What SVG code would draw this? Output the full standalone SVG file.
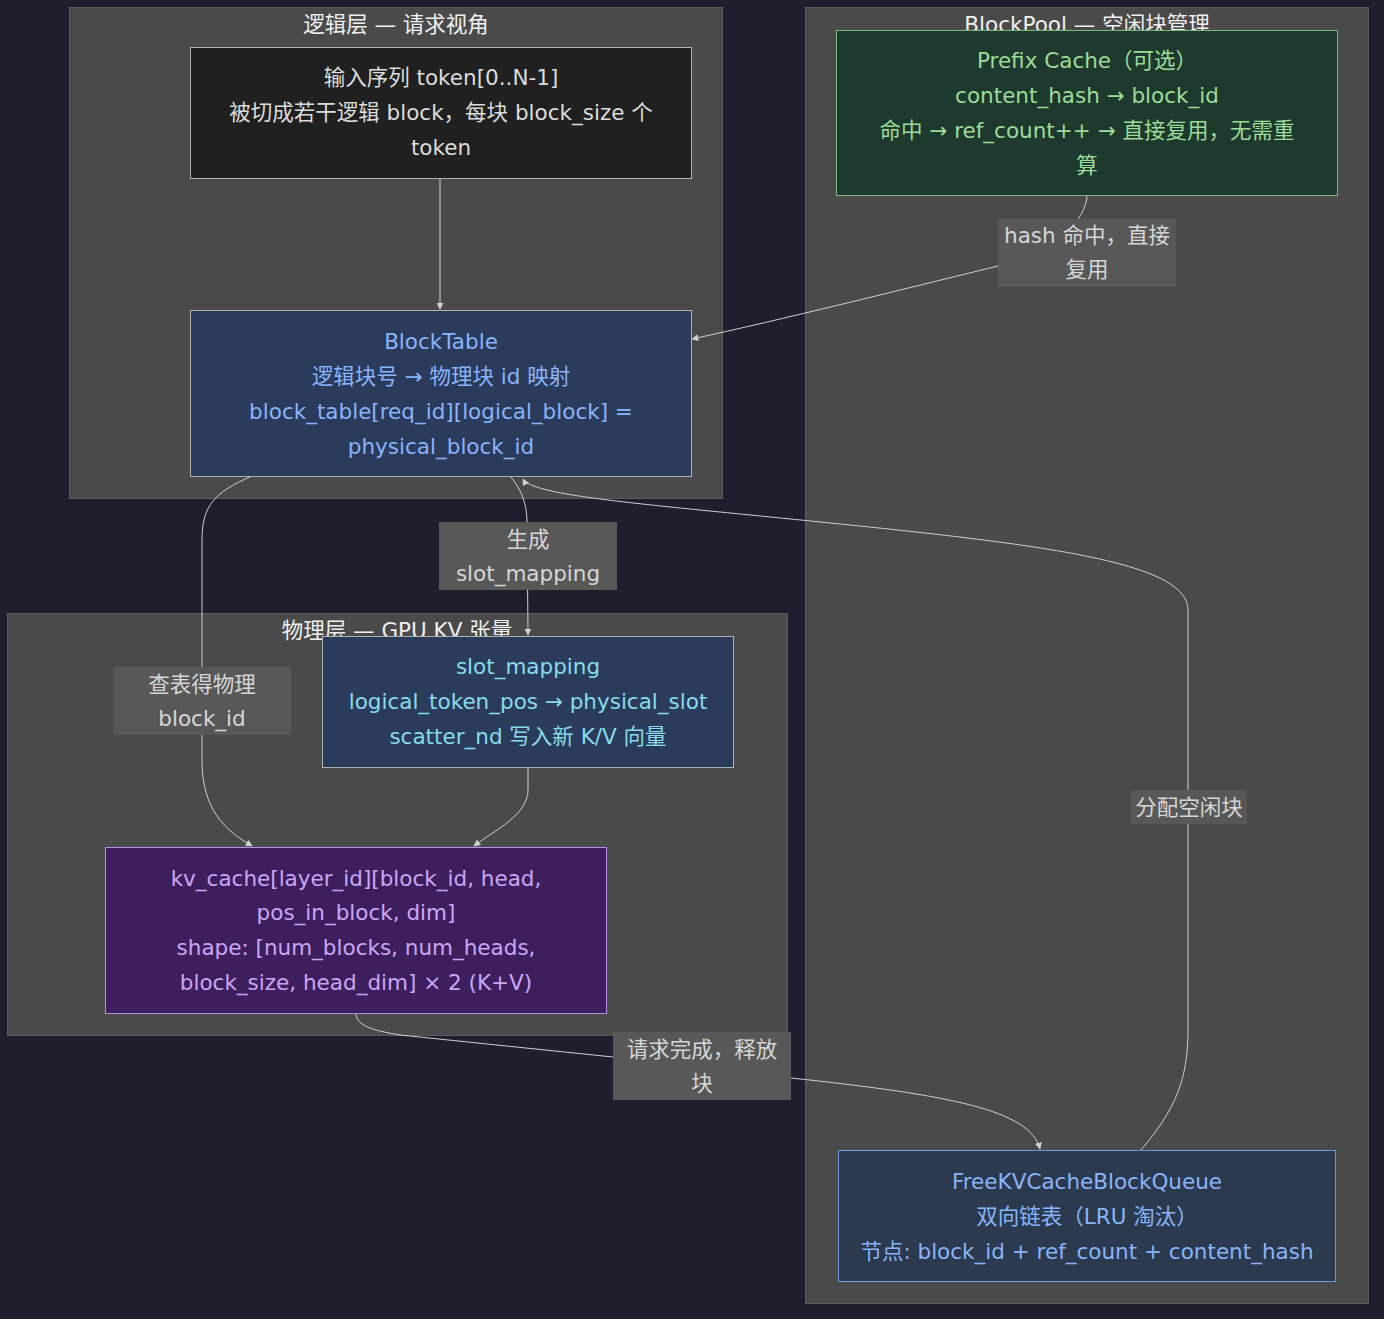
<svg xmlns="http://www.w3.org/2000/svg" width="1384" height="1319" viewBox="0 0 1384 1319">
<defs>
<marker id="arr" viewBox="0 0 10 10" refX="9" refY="5" markerWidth="7" markerHeight="7" orient="auto-start-reverse" markerUnits="userSpaceOnUse">
<path d="M0,0 L10,5 L0,10 z" fill="#d0d0d0"/>
</marker>
<style>
text{font-family:"DejaVu Sans","Noto Sans CJK SC",sans-serif;font-size:21.5px;text-anchor:middle;dominant-baseline:central}
.cl{fill:#4a4a4a;stroke:#5c5c5c;stroke-width:1}
.ct{fill:#f0f0f0}
.e{fill:none;stroke:#cfcfcf;stroke-width:1}
.lb{fill:#585858}
.lt{fill:#d6d6d6}
</style>
</defs>
<rect width="1384" height="1319" fill="#1e1e2e"/>

<g id="cluster-logic">
<rect class="cl" x="69.5" y="7.5" width="653" height="491"/>
<text class="ct" x="396" y="24">逻辑层 — 请求视角</text>
</g>
<g id="cluster-pool">
<rect class="cl" x="805.5" y="7.5" width="563" height="1296"/>
<text class="ct" x="1087" y="24">BlockPool — 空闲块管理</text>
</g>
<g id="cluster-physical">
<rect class="cl" x="7.5" y="613.5" width="780" height="422"/>
<text class="ct" x="397" y="630">物理层 — GPU KV 张量</text>
</g>

<g id="edges">
<path class="e" d="M440,178 L440,309" marker-end="url(#arr)"/>
<path class="e" d="M1087,195 C1087,215 1060,255 998,266 C900,290 780,320 692,339" marker-end="url(#arr)"/>
<path class="e" d="M252,476 C215,492 202,505 202,540 L202,760 C202,810 225,830 252,846" marker-end="url(#arr)"/>
<path class="e" d="M510,476 C522,490 527,505 527,522 L528,635" marker-end="url(#arr)"/>
<path class="e" d="M528,767 L528,790 C528,815 495,830 474,846" marker-end="url(#arr)"/>
<path class="e" d="M1141,1150 C1175,1110 1188,1080 1188,1030 L1188,610 C1188,555 1000,540 700,510 C600,500 530,492 523,479" marker-end="url(#arr)"/>
<path class="e" d="M356,1013 C356,1025 370,1030 400,1035 L613,1057 L791,1078 C950,1095 1030,1110 1040,1149" marker-end="url(#arr)"/>
</g>

<g id="edge-labels">
<g id="label-hash">
<rect class="lb" x="998" y="219" width="178" height="68"/>
<text class="lt" x="1087" y="235">hash 命中，直接</text>
<text class="lt" x="1087" y="269">复用</text>
</g>
<g id="label-gen">
<rect class="lb" x="439" y="522" width="178" height="68"/>
<text class="lt" x="528" y="539">生成</text>
<text class="lt" x="528" y="573">slot_mapping</text>
</g>
<g id="label-lookup">
<rect class="lb" x="113" y="667" width="178" height="68"/>
<text class="lt" x="202" y="684">查表得物理</text>
<text class="lt" x="202" y="718">block_id</text>
</g>
<g id="label-alloc">
<rect class="lb" x="1131" y="790" width="116" height="34"/>
<text class="lt" x="1189" y="807">分配空闲块</text>
</g>
<g id="label-release">
<rect class="lb" x="613" y="1032" width="178" height="68"/>
<text class="lt" x="702" y="1049">请求完成，释放</text>
<text class="lt" x="702" y="1083">块</text>
</g>
</g>

<g id="node-input">
<rect x="190.5" y="47.5" width="501" height="131" fill="#1f201f" stroke="#b0b0b0"/>
<text fill="#dcdcdc" x="441" y="77">输入序列 token[0..N-1]</text>
<text fill="#dcdcdc" x="441" y="112">被切成若干逻辑 block，每块 block_size 个</text>
<text fill="#dcdcdc" x="441" y="147">token</text>
</g>
<g id="node-blocktable">
<rect x="190.5" y="310.5" width="501" height="166" fill="#2a3b5c" stroke="#b0b0b0"/>
<text fill="#89b4fa" x="441" y="341">BlockTable</text>
<text fill="#89b4fa" x="441" y="376">逻辑块号 → 物理块 id 映射</text>
<text fill="#89b4fa" x="441" y="411">block_table[req_id][logical_block] =</text>
<text fill="#89b4fa" x="441" y="446">physical_block_id</text>
</g>
<g id="node-prefix">
<rect x="836.5" y="30.5" width="501" height="165" fill="#1e3a2e" stroke="#7db87d"/>
<text fill="#9ddc98" x="1087" y="60">Prefix Cache（可选）</text>
<text fill="#9ddc98" x="1087" y="95">content_hash → block_id</text>
<text fill="#9ddc98" x="1087" y="130">命中 → ref_count++ → 直接复用，无需重</text>
<text fill="#9ddc98" x="1087" y="165">算</text>
</g>
<g id="node-slotmapping">
<rect x="322.5" y="636.5" width="411" height="131" fill="#2a3b5c" stroke="#b0b0b0"/>
<text fill="#89dceb" x="528" y="666">slot_mapping</text>
<text fill="#89dceb" x="528" y="701">logical_token_pos → physical_slot</text>
<text fill="#89dceb" x="528" y="736">scatter_nd 写入新 K/V 向量</text>
</g>
<g id="node-kvcache">
<rect x="105.5" y="847.5" width="501" height="166" fill="#3e1f5e" stroke="#b48ee0"/>
<text fill="#cba6f7" x="356" y="878">kv_cache[layer_id][block_id, head,</text>
<text fill="#cba6f7" x="356" y="912">pos_in_block, dim]</text>
<text fill="#cba6f7" x="356" y="947">shape: [num_blocks, num_heads,</text>
<text fill="#cba6f7" x="356" y="982">block_size, head_dim] × 2 (K+V)</text>
</g>
<g id="node-freekv">
<rect x="838.5" y="1150.5" width="497" height="131" fill="#2b3a4e" stroke="#6a98d8"/>
<text fill="#89b4fa" x="1087" y="1181">FreeKVCacheBlockQueue</text>
<text fill="#89b4fa" x="1087" y="1216">双向链表（LRU 淘汰）</text>
<text fill="#89b4fa" x="1087" y="1251">节点: block_id + ref_count + content_hash</text>
</g>
</svg>
